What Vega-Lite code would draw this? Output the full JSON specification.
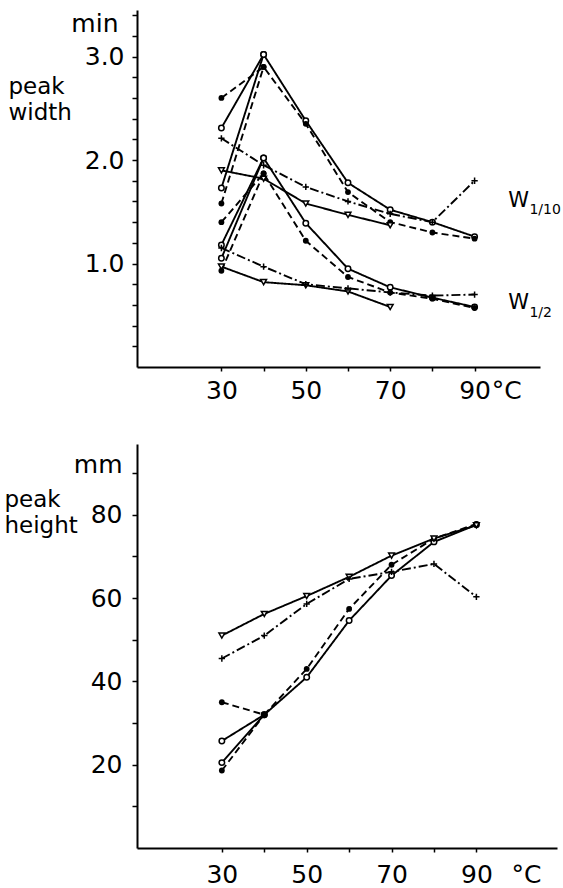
{
  "$schema": "https://vega.github.io/schema/vega-lite/v6.json",
  "padding": {"left": 4, "top": 3, "right": 0, "bottom": 0},
  "autosize": {"type": "pad"},
  "spacing": 41,
  "config": {
    "view": {"stroke": null},
    "font": "DejaVu Sans",
    "axis": {
      "grid": false,
      "domainColor": "black",
      "domainWidth": 2,
      "tickColor": "black",
      "tickWidth": 1.5,
      "tickSize": 5,
      "labelColor": "black",
      "titleColor": "black",
      "labelFont": "DejaVu Sans",
      "titleFont": "DejaVu Sans",
      "labelFontSize": 25,
      "titleFontSize": 23,
      "titleFontWeight": "normal",
      "labelOverlap": false,
      "labelFlush": false,
      "labelBound": false
    }
  },
  "datasets": {
    "widthData": [
      {"series": "o10a", "line": "solid", "marker": "open", "temp": 30, "value": 2.31},
      {"series": "o10a", "line": "solid", "marker": "open", "temp": 40, "value": 3.02},
      {"series": "o10a", "line": "solid", "marker": "open", "temp": 50, "value": 2.38},
      {"series": "o10a", "line": "solid", "marker": "open", "temp": 60, "value": 1.78},
      {"series": "o10a", "line": "solid", "marker": "open", "temp": 70, "value": 1.52},
      {"series": "o10a", "line": "solid", "marker": "open", "temp": 80, "value": 1.40},
      {"series": "o10a", "line": "solid", "marker": "open", "temp": 90, "value": 1.26},
      {"series": "o10b", "line": "solid", "marker": "open", "temp": 30, "value": 1.73},
      {"series": "o10b", "line": "solid", "marker": "open", "temp": 40, "value": 3.02},
      {"series": "f10a", "line": "dashed", "marker": "filled", "temp": 30, "value": 2.60},
      {"series": "f10a", "line": "dashed", "marker": "filled", "temp": 40, "value": 2.90},
      {"series": "f10a", "line": "dashed", "marker": "filled", "temp": 50, "value": 2.35},
      {"series": "f10a", "line": "dashed", "marker": "filled", "temp": 60, "value": 1.69},
      {"series": "f10a", "line": "dashed", "marker": "filled", "temp": 70, "value": 1.40},
      {"series": "f10a", "line": "dashed", "marker": "filled", "temp": 80, "value": 1.30},
      {"series": "f10a", "line": "dashed", "marker": "filled", "temp": 90, "value": 1.24},
      {"series": "f10b", "line": "dashed", "marker": "filled", "temp": 30, "value": 1.58},
      {"series": "f10b", "line": "dashed", "marker": "filled", "temp": 40, "value": 2.90},
      {"series": "t10", "line": "solid", "marker": "tri", "temp": 30, "value": 1.90},
      {"series": "t10", "line": "solid", "marker": "tri", "temp": 40, "value": 1.82},
      {"series": "t10", "line": "solid", "marker": "tri", "temp": 50, "value": 1.58},
      {"series": "t10", "line": "solid", "marker": "tri", "temp": 60, "value": 1.47},
      {"series": "t10", "line": "solid", "marker": "tri", "temp": 70, "value": 1.37},
      {"series": "p10", "line": "dashdot", "marker": "plus", "temp": 30, "value": 2.21},
      {"series": "p10", "line": "dashdot", "marker": "plus", "temp": 40, "value": 1.95},
      {"series": "p10", "line": "dashdot", "marker": "plus", "temp": 50, "value": 1.74},
      {"series": "p10", "line": "dashdot", "marker": "plus", "temp": 60, "value": 1.60},
      {"series": "p10", "line": "dashdot", "marker": "plus", "temp": 70, "value": 1.48},
      {"series": "p10", "line": "dashdot", "marker": "plus", "temp": 80, "value": 1.40},
      {"series": "p10", "line": "dashdot", "marker": "plus", "temp": 90, "value": 1.80},
      {"series": "o2a", "line": "solid", "marker": "open", "temp": 30, "value": 1.18},
      {"series": "o2a", "line": "solid", "marker": "open", "temp": 40, "value": 2.02},
      {"series": "o2a", "line": "solid", "marker": "open", "temp": 50, "value": 1.39},
      {"series": "o2a", "line": "solid", "marker": "open", "temp": 60, "value": 0.95},
      {"series": "o2a", "line": "solid", "marker": "open", "temp": 70, "value": 0.77},
      {"series": "o2a", "line": "solid", "marker": "open", "temp": 80, "value": 0.67},
      {"series": "o2a", "line": "solid", "marker": "open", "temp": 90, "value": 0.58},
      {"series": "o2b", "line": "solid", "marker": "open", "temp": 30, "value": 1.05},
      {"series": "o2b", "line": "solid", "marker": "open", "temp": 40, "value": 2.02},
      {"series": "f2a", "line": "dashed", "marker": "filled", "temp": 30, "value": 1.40},
      {"series": "f2a", "line": "dashed", "marker": "filled", "temp": 40, "value": 1.87},
      {"series": "f2a", "line": "dashed", "marker": "filled", "temp": 50, "value": 1.22},
      {"series": "f2a", "line": "dashed", "marker": "filled", "temp": 60, "value": 0.87},
      {"series": "f2a", "line": "dashed", "marker": "filled", "temp": 70, "value": 0.72},
      {"series": "f2a", "line": "dashed", "marker": "filled", "temp": 80, "value": 0.66},
      {"series": "f2a", "line": "dashed", "marker": "filled", "temp": 90, "value": 0.57},
      {"series": "f2b", "line": "dashed", "marker": "filled", "temp": 30, "value": 0.93},
      {"series": "f2b", "line": "dashed", "marker": "filled", "temp": 40, "value": 1.87},
      {"series": "t2", "line": "solid", "marker": "tri", "temp": 30, "value": 0.97},
      {"series": "t2", "line": "solid", "marker": "tri", "temp": 40, "value": 0.82},
      {"series": "t2", "line": "solid", "marker": "tri", "temp": 50, "value": 0.79},
      {"series": "t2", "line": "solid", "marker": "tri", "temp": 60, "value": 0.73},
      {"series": "t2", "line": "solid", "marker": "tri", "temp": 70, "value": 0.58},
      {"series": "p2", "line": "dashdot", "marker": "plus", "temp": 30, "value": 1.15},
      {"series": "p2", "line": "dashdot", "marker": "plus", "temp": 40, "value": 0.97},
      {"series": "p2", "line": "dashdot", "marker": "plus", "temp": 50, "value": 0.80},
      {"series": "p2", "line": "dashdot", "marker": "plus", "temp": 60, "value": 0.76},
      {"series": "p2", "line": "dashdot", "marker": "plus", "temp": 70, "value": 0.72},
      {"series": "p2", "line": "dashdot", "marker": "plus", "temp": 80, "value": 0.69},
      {"series": "p2", "line": "dashdot", "marker": "plus", "temp": 90, "value": 0.70}
    ],
    "widthLabels": [
      {"part": "main", "label": "W", "temp": 98.0, "value": 1.545},
      {"part": "sub", "label": "1/10", "temp": 103.0, "value": 1.478},
      {"part": "main", "label": "W", "temp": 98.0, "value": 0.565},
      {"part": "sub", "label": "1/2", "temp": 103.0, "value": 0.488}
    ],
    "heightData": [
      {"series": "t", "line": "solid", "marker": "tri", "temp": 30, "value": 51.0},
      {"series": "t", "line": "solid", "marker": "tri", "temp": 40, "value": 56.2},
      {"series": "t", "line": "solid", "marker": "tri", "temp": 50, "value": 60.5},
      {"series": "t", "line": "solid", "marker": "tri", "temp": 60, "value": 65.1},
      {"series": "t", "line": "solid", "marker": "tri", "temp": 70, "value": 70.2},
      {"series": "t", "line": "solid", "marker": "tri", "temp": 80, "value": 74.3},
      {"series": "t", "line": "solid", "marker": "tri", "temp": 90, "value": 77.5},
      {"series": "p", "line": "dashdot", "marker": "plus", "temp": 30, "value": 45.5},
      {"series": "p", "line": "dashdot", "marker": "plus", "temp": 40, "value": 51.0},
      {"series": "p", "line": "dashdot", "marker": "plus", "temp": 50, "value": 58.6},
      {"series": "p", "line": "dashdot", "marker": "plus", "temp": 60, "value": 64.6},
      {"series": "p", "line": "dashdot", "marker": "plus", "temp": 70, "value": 66.3},
      {"series": "p", "line": "dashdot", "marker": "plus", "temp": 80, "value": 68.2},
      {"series": "p", "line": "dashdot", "marker": "plus", "temp": 90, "value": 60.3},
      {"series": "oa", "line": "solid", "marker": "open", "temp": 30, "value": 25.7},
      {"series": "oa", "line": "solid", "marker": "open", "temp": 40, "value": 32.0},
      {"series": "oa", "line": "solid", "marker": "open", "temp": 50, "value": 41.0},
      {"series": "oa", "line": "solid", "marker": "open", "temp": 60, "value": 54.6},
      {"series": "oa", "line": "solid", "marker": "open", "temp": 70, "value": 65.4},
      {"series": "oa", "line": "solid", "marker": "open", "temp": 80, "value": 73.5},
      {"series": "oa", "line": "solid", "marker": "open", "temp": 90, "value": 77.6},
      {"series": "ob", "line": "solid", "marker": "open", "temp": 30, "value": 20.5},
      {"series": "ob", "line": "solid", "marker": "open", "temp": 40, "value": 32.0},
      {"series": "fa", "line": "dashed", "marker": "filled", "temp": 30, "value": 35.0},
      {"series": "fa", "line": "dashed", "marker": "filled", "temp": 40, "value": 32.0},
      {"series": "fa", "line": "dashed", "marker": "filled", "temp": 50, "value": 43.0},
      {"series": "fa", "line": "dashed", "marker": "filled", "temp": 60, "value": 57.4},
      {"series": "fa", "line": "dashed", "marker": "filled", "temp": 70, "value": 68.0},
      {"series": "fa", "line": "dashed", "marker": "filled", "temp": 80, "value": 74.3},
      {"series": "fa", "line": "dashed", "marker": "filled", "temp": 90, "value": 77.8},
      {"series": "fb", "line": "dashed", "marker": "filled", "temp": 30, "value": 18.6},
      {"series": "fb", "line": "dashed", "marker": "filled", "temp": 40, "value": 32.0}
    ]
  },
  "vconcat": [
    {
      "width": 403,
      "height": 357,
      "data": {"name": "widthData"},
      "encoding": {
        "x": {
          "field": "temp", "type": "quantitative",
          "scale": {"domain": [10, 105.5], "nice": false, "zero": false},
          "axis": {
            "title": null,
            "values": [30, 40, 50, 60, 70, 80, 90, 97.5],
            "labelExpr": "datum.value == 97.5 ? '°C' : (datum.value % 20 == 10 ? datum.label : '')",
            "tickOpacity": {"condition": {"test": "datum.value == 97.5", "value": 0}, "value": 1},
            "tickSize": 4,
            "labelPadding": 7
          }
        },
        "y": {
          "field": "value", "type": "quantitative",
          "scale": {"domain": [0, 3.45], "nice": false, "zero": false},
          "axis": {
            "values": [0.2, 0.4, 0.6, 0.8, 1, 1.2, 1.4, 1.6, 1.8, 2, 2.2, 2.4, 2.6, 2.8, 3, 3.2, 3.4, 3.32],
            "labelExpr": "datum.value == 3.32 ? 'min' : ((datum.value == 1 || datum.value == 2 || datum.value == 3) ? format(datum.value, '.1f') : '')",
            "tickOpacity": {"condition": {"test": "datum.value == 3.32", "value": 0}, "value": 1},
            "labelPadding": {"condition": {"test": "datum.value == 3.32", "value": 14}, "value": 8},
            "title": ["peak", "width"],
            "titleAngle": 0,
            "titleAlign": "left",
            "titleBaseline": "top",
            "titleX": -129,
            "titleY": 65,
            "titleLineHeight": 26
          }
        }
      },
      "layer": [
        {
          "mark": {"type": "line", "color": "black", "strokeWidth": 1.9},
          "encoding": {
            "detail": {"field": "series"},
            "strokeDash": {
              "field": "line", "type": "nominal",
              "scale": {"domain": ["solid", "dashed", "dashdot"], "range": [[1, 0], [7, 4], [9, 3, 2, 3]]},
              "legend": null
            }
          }
        },
        {
          "transform": [{"filter": "datum.marker == 'open'"}],
          "mark": {"type": "point", "shape": "circle", "filled": false, "fill": "white", "stroke": "black", "strokeWidth": 1.5, "size": 30, "opacity": 1, "fillOpacity": 1}
        },
        {
          "transform": [{"filter": "datum.marker == 'filled'"}],
          "mark": {"type": "point", "shape": "circle", "filled": true, "color": "black", "size": 34, "opacity": 1}
        },
        {
          "transform": [{"filter": "datum.marker == 'tri'"}],
          "mark": {"type": "point", "shape": "triangle-down", "filled": false, "fill": "white", "stroke": "black", "strokeWidth": 1.5, "size": 34, "opacity": 1, "fillOpacity": 1}
        },
        {
          "transform": [{"filter": "datum.marker == 'plus'"}],
          "mark": {"type": "point", "shape": "M-1,0H1M0,-1V1", "filled": false, "stroke": "black", "strokeWidth": 1.5, "size": 40, "opacity": 1}
        },
        {
          "data": {"name": "widthLabels"},
          "transform": [{"filter": "datum.part == 'main'"}],
          "mark": {"type": "text", "align": "left", "baseline": "alphabetic", "fontSize": 21, "color": "black", "font": "DejaVu Sans"},
          "encoding": {"text": {"field": "label"}}
        },
        {
          "data": {"name": "widthLabels"},
          "transform": [{"filter": "datum.part == 'sub'"}],
          "mark": {"type": "text", "align": "left", "baseline": "alphabetic", "fontSize": 14, "color": "black", "font": "DejaVu Sans"},
          "encoding": {"text": {"field": "label"}}
        }
      ]
    },
    {
      "width": 420,
      "height": 404,
      "data": {"name": "heightData"},
      "encoding": {
        "x": {
          "field": "temp", "type": "quantitative",
          "scale": {"domain": [10, 109], "nice": false, "zero": false},
          "axis": {
            "title": null,
            "values": [30, 40, 50, 60, 70, 80, 90, 101.7],
            "labelExpr": "datum.value == 101.7 ? '°C' : (datum.value % 20 == 10 ? datum.label : '')",
            "tickOpacity": {"condition": {"test": "datum.value == 101.7", "value": 0}, "value": 1},
            "tickSize": 4,
            "labelPadding": 10
          }
        },
        "y": {
          "field": "value", "type": "quantitative",
          "scale": {"domain": [0, 97], "nice": false, "zero": false},
          "axis": {
            "values": [10, 20, 30, 40, 50, 60, 70, 80, 90, 92],
            "labelExpr": "datum.value == 92 ? 'mm' : (datum.value % 20 == 0 ? datum.label : '')",
            "tickOpacity": {"condition": {"test": "datum.value == 92", "value": 0}, "value": 1},
            "labelPadding": 10,
            "title": ["peak", "height"],
            "titleAngle": 0,
            "titleAlign": "left",
            "titleBaseline": "top",
            "titleX": -133,
            "titleY": 44,
            "titleLineHeight": 26
          }
        }
      },
      "layer": [
        {
          "mark": {"type": "line", "color": "black", "strokeWidth": 1.9},
          "encoding": {
            "detail": {"field": "series"},
            "strokeDash": {
              "field": "line", "type": "nominal",
              "scale": {"domain": ["solid", "dashed", "dashdot"], "range": [[1, 0], [7, 4], [9, 3, 2, 3]]},
              "legend": null
            }
          }
        },
        {
          "transform": [{"filter": "datum.marker == 'open'"}],
          "mark": {"type": "point", "shape": "circle", "filled": false, "fill": "white", "stroke": "black", "strokeWidth": 1.5, "size": 30, "opacity": 1, "fillOpacity": 1}
        },
        {
          "transform": [{"filter": "datum.marker == 'filled'"}],
          "mark": {"type": "point", "shape": "circle", "filled": true, "color": "black", "size": 34, "opacity": 1}
        },
        {
          "transform": [{"filter": "datum.marker == 'tri'"}],
          "mark": {"type": "point", "shape": "triangle-down", "filled": false, "fill": "white", "stroke": "black", "strokeWidth": 1.5, "size": 34, "opacity": 1, "fillOpacity": 1}
        },
        {
          "transform": [{"filter": "datum.marker == 'plus'"}],
          "mark": {"type": "point", "shape": "M-1,0H1M0,-1V1", "filled": false, "stroke": "black", "strokeWidth": 1.5, "size": 40, "opacity": 1}
        }
      ]
    }
  ]
}
